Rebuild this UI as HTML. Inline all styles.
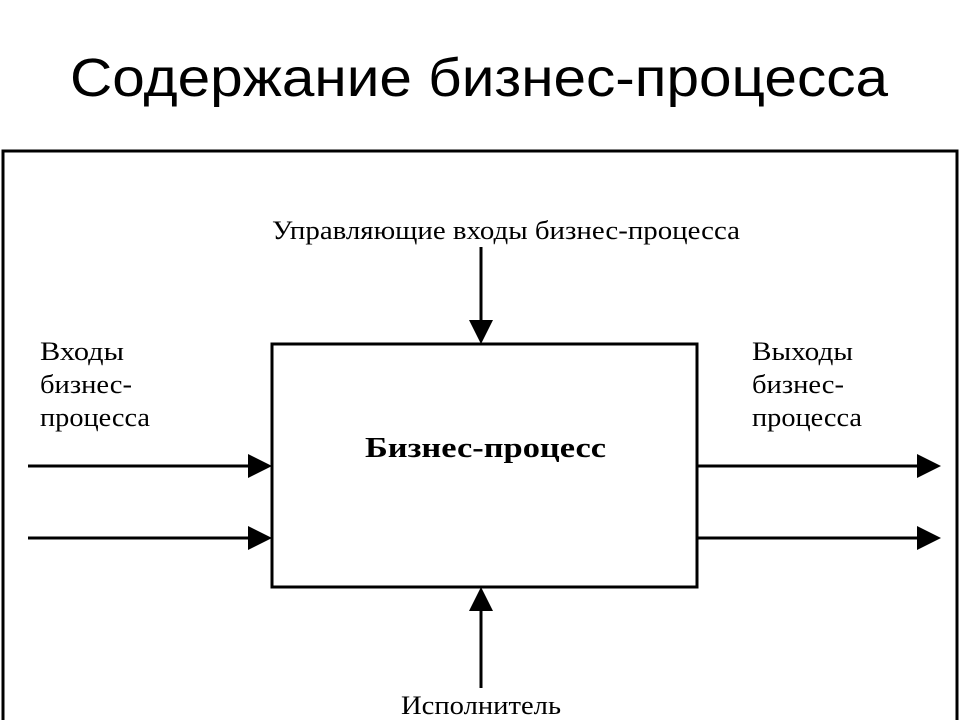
<!DOCTYPE html>
<html><head><meta charset="utf-8"><style>
html,body{margin:0;padding:0;background:#fff;width:960px;height:720px;overflow:hidden}
svg{display:block}
.s{font-family:"Liberation Serif",serif;font-size:26px;fill:#000}
</style></head><body>
<svg width="960" height="720" viewBox="0 0 960 720">
<text x="70" y="96" textLength="818" lengthAdjust="spacingAndGlyphs" font-family="Liberation Sans, sans-serif" font-size="54" fill="#000">Содержание бизнес-процесса</text>
<rect x="3" y="151" width="954" height="600" fill="none" stroke="#000" stroke-width="3"/>
<rect x="272" y="344" width="425" height="243" fill="none" stroke="#000" stroke-width="3"/>
<text class="s" x="272" y="239" textLength="468" lengthAdjust="spacingAndGlyphs">Управляющие входы бизнес-процесса</text>
<text class="s" x="40" y="360" textLength="84" lengthAdjust="spacingAndGlyphs">Входы</text>
<text class="s" x="40" y="393" textLength="92" lengthAdjust="spacingAndGlyphs">бизнес-</text>
<text class="s" x="40" y="426" textLength="110" lengthAdjust="spacingAndGlyphs">процесса</text>
<text class="s" x="752" y="360" textLength="101" lengthAdjust="spacingAndGlyphs">Выходы</text>
<text class="s" x="752" y="393" textLength="92" lengthAdjust="spacingAndGlyphs">бизнес-</text>
<text class="s" x="752" y="426" textLength="110" lengthAdjust="spacingAndGlyphs">процесса</text>
<text x="365" y="457" textLength="241" lengthAdjust="spacingAndGlyphs" font-family="Liberation Serif, serif" font-weight="bold" font-size="29" fill="#000">Бизнес-процесс</text>
<text class="s" x="401" y="714" textLength="160" lengthAdjust="spacingAndGlyphs">Исполнитель</text>
<g stroke="#000" stroke-width="3">
<line x1="28" y1="466" x2="252" y2="466"/>
<line x1="28" y1="538" x2="252" y2="538"/>
<line x1="697" y1="466" x2="920" y2="466"/>
<line x1="697" y1="538" x2="920" y2="538"/>
<line x1="481" y1="247" x2="481" y2="322"/>
<line x1="481" y1="607" x2="481" y2="688"/>
</g>
<g fill="#000">
<polygon points="248,454 272,466 248,478"/>
<polygon points="248,526 272,538 248,550"/>
<polygon points="917,454 941,466 917,478"/>
<polygon points="917,526 941,538 917,550"/>
<polygon points="469,320 493,320 481,344"/>
<polygon points="469,611 493,611 481,587"/>
</g>
</svg>
</body></html>
